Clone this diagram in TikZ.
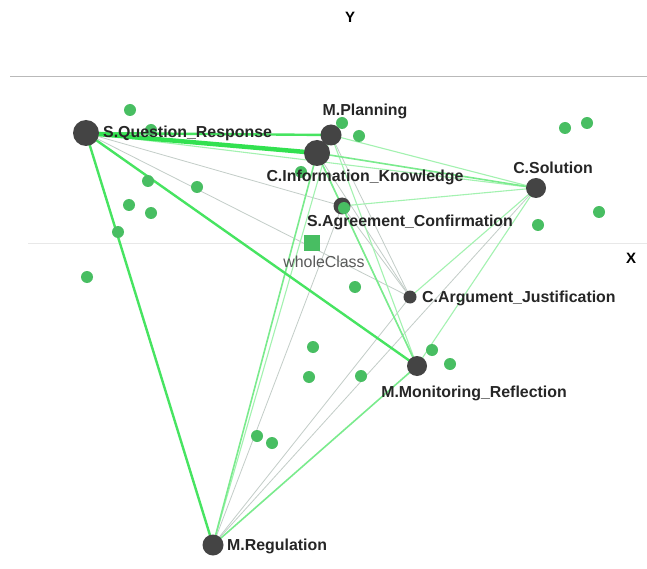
\documentclass[tikz,border=0pt]{standalone}
\usepackage{fontspec}
\setmainfont{Liberation Sans}
\definecolor{edgegreen}{RGB}{50,225,80}
\definecolor{dotgreen}{RGB}{72,190,98}
\definecolor{darknode}{RGB}{68,68,68}
\definecolor{faintgray}{RGB}{195,205,200}
\begin{document}
\begin{tikzpicture}[x=1pt,y=-1pt,
  concept/.style={circle,fill=darknode,inner sep=0,minimum size=#1},
  dot/.style={circle,fill=dotgreen,inner sep=0,minimum size=12},
  lbl/.style={font=\fontsize{15.9}{18}\selectfont\bfseries,text=black!85,inner sep=0},
  axislbl/.style={font=\fontsize{15}{18}\selectfont\bfseries,inner sep=0},
  strong/.style={draw=edgegreen,line width=4.5},
  medium/.style={draw=edgegreen!90,line width=2.4},
  midthin/.style={draw=edgegreen!65,line width=1.6},
  thin/.style={draw=edgegreen!45,line width=1.1},
  faint/.style={draw=faintgray,line width=0.8},
  axisline/.style={draw=gray!55,line width=1}]
\useasboundingbox (0,0) rectangle (647,569);
\fill[white] (0,0) rectangle (647,569);
% axes
\coordinate (ta) at (10,77);
\coordinate (tb) at (647,77);
\coordinate (xa) at (28,243);
\coordinate (xb) at (647,243);
\draw[axisline] (ta) -- (tb);
\draw[draw=gray!18,line width=1] (xa) -- (xb);
\node[axislbl] (Y) at (350,17) {Y};
\node[axislbl] (X) at (631,258) {X};
% concept node positions
\coordinate (SQ) at (86,133);
\coordinate (MP) at (331,135);
\coordinate (CIK) at (317,153);
\coordinate (CS) at (536,188);
\coordinate (SA) at (342,206);
\coordinate (CAJ) at (410,297);
\coordinate (MMR) at (417,366);
\coordinate (MR) at (213,545);
% edges
\draw[faint] (SQ) -- (SA);
\draw[faint] (SQ) -- (CAJ);
\draw[faint] (MR) -- (SA);
\draw[faint] (MR) -- (CAJ);
\draw[faint] (CIK) -- (CAJ);
\draw[faint] (MP) -- (CAJ);
\draw[faint] (SA) -- (CAJ);
\draw[faint] (MR) -- (CS);
\draw[thin] (CAJ) -- (CS);
\draw[thin] (MMR) -- (CS);
\draw[thin] (SA) -- (CS);
\draw[thin] (MP) -- (CS);
\draw[thin] (SQ) -- (CS);
\draw[thin] (CIK) -- (SA);
\draw[thin] (SA) -- (MMR);
\draw[thin] (MP) -- (MMR);
\draw[thin] (MP) -- (MR);
\draw[midthin] (CIK) -- (CS);
\draw[midthin] (CIK) -- (MR);
\draw[midthin] (CIK) -- (MMR);
\draw[midthin] (MMR) -- (MR);
\draw[medium] (SQ) -- (MP);
\draw[medium] (SQ) -- (MR);
\draw[medium] (SQ) -- (MMR);
\draw[strong] (SQ) -- (CIK);
\draw[midthin] (MP) -- (CIK);
% concept nodes
\node[concept=26] (nSQ) at (SQ) {};
\node[concept=21] (nMP) at (MP) {};
\node[concept=26] (nCIK) at (CIK) {};
\node[concept=20] (nCS) at (CS) {};
\node[concept=17] (nSA) at (SA) {};
\node[concept=13] (nCAJ) at (CAJ) {};
\node[concept=20] (nMMR) at (MMR) {};
\node[concept=21] (nMR) at (MR) {};
% green dots
\node[dot] (d1) at (130,110) {};
\node[dot] (d2) at (151,130) {};
\node[dot] (d3) at (148,181) {};
\node[dot] (d4) at (197,187) {};
\node[dot] (d5) at (129,205) {};
\node[dot] (d6) at (151,213) {};
\node[dot] (d7) at (118,232) {};
\node[dot] (d8) at (87,277) {};
\node[dot] (d9) at (342,123) {};
\node[dot] (d10) at (359,136) {};
\node[dot] (d11) at (565,128) {};
\node[dot] (d12) at (587,123) {};
\node[dot] (d13) at (599,212) {};
\node[dot] (d14) at (538,225) {};
\node[dot] (d15) at (344,208) {};
\node[dot] (d16) at (301,172) {};
\node[dot] (d17) at (355,287) {};
\node[dot] (d18) at (313,347) {};
\node[dot] (d19) at (309,377) {};
\node[dot] (d20) at (361,376) {};
\node[dot] (d21) at (432,350) {};
\node[dot] (d22) at (450,364) {};
\node[dot] (d23) at (257,436) {};
\node[dot] (d24) at (272,443) {};
% whole class
\node[fill=dotgreen,inner sep=0,minimum size=16] (wc) at (312,243) {};
\node[font=\fontsize{15.9}{18}\selectfont,text=black!65,inner sep=0] (wcl) at (324,262) {wholeClass};
% labels
\node[lbl,anchor=west] (lSQ) at (103,133) {S.Question\_Response};
\node[lbl] (lMP) at (365,111) {M.Planning};
\node[lbl] (lCIK) at (365,177) {C.Information\_Knowledge};
\node[lbl] (lCS) at (553,168) {C.Solution};
\node[lbl] (lSA) at (410,222) {S.Agreement\_Confirmation};
\node[lbl,anchor=west] (lCAJ) at (422,298) {C.Argument\_Justification};
\node[lbl] (lMMR) at (474,393) {M.Monitoring\_Reflection};
\node[lbl,anchor=west] (lMR) at (227,546) {M.Regulation};
\end{tikzpicture}
\end{document}
